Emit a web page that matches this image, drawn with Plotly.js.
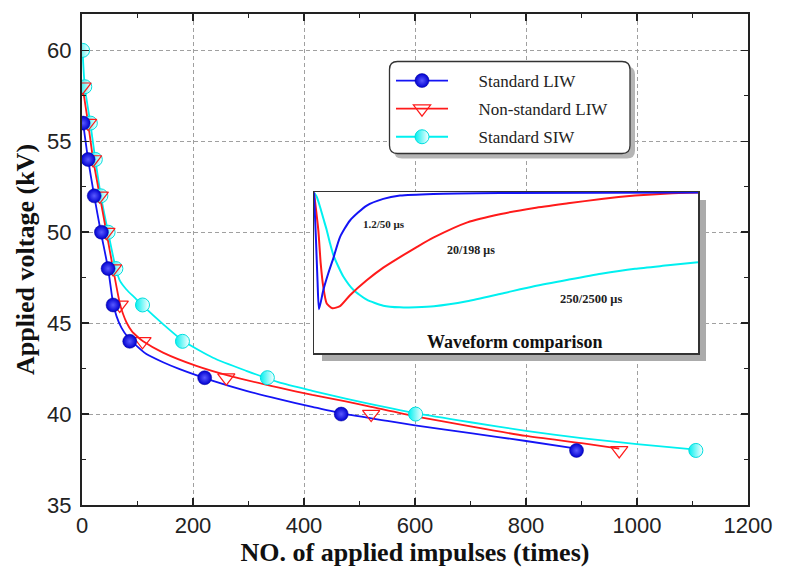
<!DOCTYPE html>
<html>
<head>
<meta charset="utf-8">
<script src="https://cdn.plot.ly/plotly-3.0.1.min.js"></script>
<style>html,body{margin:0;padding:0;background:#fff;}#chart{width:785px;height:568px;}</style>
</head>
<body>
<div id="chart"></div>
<script>
// ---- measured points ----
const blueN = [2, 11, 22, 35, 47, 56, 86, 221, 467, 891];
const blueV = [56, 54, 52, 50, 48, 46, 44, 42, 40, 38];
const redN = [1, 11, 20, 32, 44, 56, 68, 109, 260, 521, 968];
const redV = [58, 56, 54, 52, 50, 48, 46, 44, 42, 40, 38];
const cyanN = [1, 5, 15, 24, 34, 47, 61, 109, 181, 334, 601, 1106];
const cyanV = [60, 58, 56, 54, 52, 50, 48, 46, 44, 42, 40, 38];

// ---- fitted curves ----
const blueFitN = [2, 11, 22, 34, 47, 56, 62, 71, 82, 95, 116, 146, 176, 236, 296, 355, 415, 471, 550, 600, 700, 800, 891];
const blueFitV = [56, 54, 52, 50, 48, 46.1, 45.4, 44.75, 44.25, 43.85, 43.3, 42.85, 42.47, 41.83, 41.28, 40.82, 40.4, 40.02, 39.62, 39.38, 38.95, 38.52, 38.1];
const redFitN = [1, 11, 20, 32, 44, 56, 68, 74, 80, 90, 100, 110, 146, 206, 266, 355, 415, 475, 521, 600, 700, 800, 900, 968];
const redFitV = [58, 56, 54, 52, 50, 48, 46.1, 45.5, 45.05, 44.55, 44.25, 44.0, 43.38, 42.65, 42.1, 41.45, 41.05, 40.7, 40.4, 39.88, 39.32, 38.8, 38.4, 38.1];
const cyanFitN = [1, 5, 15, 24, 34, 47, 61, 68, 80, 95, 110, 146, 182, 236, 296, 355, 415, 475, 601, 700, 800, 900, 1000, 1106];
const cyanFitV = [60, 58, 56, 54, 52, 50, 48, 47.35, 46.85, 46.4, 45.95, 44.95, 44.03, 43.1, 42.38, 41.74, 41.28, 40.85, 40.05, 39.55, 39.08, 38.68, 38.35, 38.05];

// ---- inset waveforms (relative units) ----
const wBlueT = [0, 2, 3.5, 5, 9.3, 14.3, 19.3, 26, 36, 52.7, 69.3, 86, 119.3, 186, 384];
const wBlueV = [0, -48, -88, -117, -98, -81, -66, -44.7, -28, -13, -6.3, -3, -1.3, -0.4, 0];
const wRedT = [0, 4.3, 6.7, 9.3, 12.7, 18.3, 26, 36, 52.7, 69.3, 86, 102.7, 119.3, 153.4, 187, 220.4, 254, 287.4, 321, 354.4, 384];
const wRedV = [0, -37.5, -71, -94.7, -111.3, -116, -114, -103, -88, -75.3, -64.7, -54.7, -45.3, -29.9, -21.5, -15.5, -10.8, -6.4, -3, -0.8, 0];
const wCyanT = [0, 2.7, 6, 9.3, 12.7, 16, 19.3, 24.3, 29.3, 39.3, 52.7, 69.3, 86, 102, 120, 153, 187, 220, 254, 287, 321, 354, 384];
const wCyanV = [0, -4.2, -14.2, -25.8, -37.5, -50.8, -62.5, -74.2, -84.2, -97.5, -107.5, -113.5, -115.2, -115, -114, -109, -101.5, -94, -87.5, -81.5, -76.5, -73, -69.8];

const seriesNames = ['Standard LIW', 'Non-standard LIW', 'Standard SIW'];
const waveLabels = ['1.2/50 \u03bcs', '20/198 \u03bcs', '250/2500 \u03bcs'];

const BLUE = '#1414f5', RED = '#ff1a1a', CYAN = '#00f0f0';
const blueMarker = {symbol: 'circle', size: 14, color: '#0000d0', line: {width: 0.5, color: '#00009a'}, gradient: {type: 'radial', color: '#5a5aff'}};
const redMarker = {symbol: 'triangle-down-open', size: 15, color: RED, line: {width: 1.2, color: RED}};
const cyanMarker = {symbol: 'circle', size: 14, color: CYAN, line: {width: 1, color: '#00dede'}, gradient: {type: 'horizontal', color: '#ffffff'}};

const PAD = '\u00a0\u00a0\u00a0\u00a0\u00a0\u00a0';
const spl = {shape: 'spline', smoothing: 0.6};
const traces = [
  {x: cyanFitN, y: cyanFitV, mode: 'lines', line: Object.assign({color: CYAN, width: 1.8}, spl), showlegend: false, hoverinfo: 'skip'},
  {x: redFitN, y: redFitV, mode: 'lines', line: Object.assign({color: RED, width: 1.8}, spl), showlegend: false, hoverinfo: 'skip'},
  {x: blueFitN, y: blueFitV, mode: 'lines', line: Object.assign({color: BLUE, width: 1.8}, spl), showlegend: false, hoverinfo: 'skip'},
  {x: cyanN, y: cyanV, mode: 'markers', marker: cyanMarker, showlegend: false},
  {x: redN, y: redV, mode: 'markers', marker: redMarker, showlegend: false},
  {x: blueN, y: blueV, mode: 'markers', marker: blueMarker, showlegend: false},
  // legend entries
  {x: [null], y: [null], mode: 'lines+markers', name: PAD + seriesNames[0], line: {color: BLUE, width: 1.8}, marker: blueMarker, legendgroup: 'a', legendrank: 1},
  {x: [null], y: [null], mode: 'lines+markers', name: PAD + seriesNames[1], line: {color: RED, width: 1.8}, marker: redMarker, legendgroup: 'b', legendrank: 2},
  {x: [null], y: [null], mode: 'lines+markers', name: PAD + seriesNames[2], line: {color: CYAN, width: 1.8}, marker: cyanMarker, legendgroup: 'c', legendrank: 3},
  // inset
  {x: wCyanT, y: wCyanV, xaxis: 'x2', yaxis: 'y2', mode: 'lines', line: Object.assign({color: CYAN, width: 2}, spl), showlegend: false, hoverinfo: 'skip'},
  {x: wRedT, y: wRedV, xaxis: 'x2', yaxis: 'y2', mode: 'lines', line: Object.assign({color: RED, width: 2}, spl), showlegend: false, hoverinfo: 'skip'},
  {x: wBlueT, y: wBlueV, xaxis: 'x2', yaxis: 'y2', mode: 'lines', line: Object.assign({color: BLUE, width: 2}, spl), showlegend: false, hoverinfo: 'skip'}
];

// pixel helpers for decorative boxes
const PL = 82, PR = 748, PT = 14, PB = 505;
const XMAX = 1200, YMIN = 35, YMAX = 62;
const px = v => (v - PL) / (PR - PL);
const py = v => (PB - v) / (PB - PT);
const dx = v => px(v) * XMAX;
const dy = v => YMIN + py(v) * (YMAX - YMIN);
function roundRect(x0, y0, x1, y1, r) {
  const rx = r / (PR - PL), ry = r / (PB - PT);
  const a = px(x0), b = px(x1), t = py(y0), u = py(y1);
  return `M${a + rx},${t} L${b - rx},${t} Q${b},${t} ${b},${t - ry} L${b},${u + ry} Q${b},${u} ${b - rx},${u} L${a + rx},${u} Q${a},${u} ${a},${u + ry} L${a},${t - ry} Q${a},${t} ${a + rx},${t} Z`;
}
const inset = {l: 314, r: 698, t: 192, b: 353};

const serif = 'Liberation Serif, Times New Roman, serif';
const sans = 'Liberation Sans, Arial, sans-serif';

const layout = {
  width: 785, height: 568,
  margin: {l: PL, r: 785 - PR, t: PT, b: 568 - PB},
  paper_bgcolor: '#fff', plot_bgcolor: '#fff',
  showlegend: true,
  legend: {x: px(391), y: py(63), xanchor: 'left', yanchor: 'top', bgcolor: 'rgba(0,0,0,0)', borderwidth: 0,
           font: {family: serif, size: 17, color: '#222'}, itemwidth: 52, tracegroupgap: 3, traceorder: 'grouped'},
  xaxis: {
    range: [0, XMAX], dtick: 200, tick0: 0, ticks: 'inside', ticklen: 7, tickwidth: 1.5, tickcolor: '#222',
    minor: {dtick: 100, ticks: 'inside', ticklen: 4, tickwidth: 1.2, tickcolor: '#222', showgrid: false},
    showline: true, linecolor: '#222', linewidth: 2, mirror: 'allticks',
    showgrid: true, gridcolor: '#a0a0a0', griddash: '4px,3px', gridwidth: 1, zeroline: false,
    tickfont: {family: sans, size: 22, color: '#222'},
    title: {text: 'NO. of applied impulses (times)', font: {family: serif, size: 26, color: '#111', weight: 'bold'}, standoff: 1}
  },
  yaxis: {
    range: [YMIN, YMAX], dtick: 5, tick0: 35, ticks: 'inside', ticklen: 7, tickwidth: 1.5, tickcolor: '#222',
    minor: {dtick: 2.5, ticks: 'inside', ticklen: 4, tickwidth: 1.2, tickcolor: '#222', showgrid: false},
    showline: true, linecolor: '#222', linewidth: 2, mirror: 'allticks',
    showgrid: true, gridcolor: '#a0a0a0', griddash: '4px,3px', gridwidth: 1, zeroline: false,
    tickfont: {family: sans, size: 22, color: '#222'}, ticklabelstandoff: 4,
    title: {text: 'Applied voltage (kV)', font: {family: serif, size: 26, color: '#111', weight: 'bold'}, standoff: 5}
  },
  xaxis2: {domain: [px(inset.l), px(inset.r)], anchor: 'y2', range: [0, 384], showgrid: false, zeroline: false,
           showticklabels: false, ticks: '', showline: true, mirror: true, linecolor: '#333', linewidth: 1.5},
  yaxis2: {domain: [py(inset.b), py(inset.t)], anchor: 'x2', range: [-161, 0.6], showgrid: false, zeroline: false,
           showticklabels: false, ticks: '', showline: true, mirror: true, linecolor: '#333', linewidth: 1.5},
  shapes: [
    // inset shadow and background (main axes coordinates, above gridlines)
    {type: 'rect', xref: 'x', yref: 'y', x0: dx(inset.l + 8), x1: dx(inset.r + 8), y0: dy(inset.b + 8), y1: dy(inset.t + 8),
     fillcolor: '#ababab', line: {width: 0}, layer: 'between'},
    {type: 'rect', xref: 'x', yref: 'y', x0: dx(inset.l), x1: dx(inset.r), y0: dy(inset.b), y1: dy(inset.t),
     fillcolor: '#ffffff', line: {width: 0}, layer: 'between'},
    // legend box shadow and frame
    {type: 'path', xref: 'paper', yref: 'paper', path: roundRect(394, 66.5, 635, 158.5, 8), fillcolor: '#b5b5b5', line: {width: 0}, layer: 'above'},
    {type: 'path', xref: 'paper', yref: 'paper', path: roundRect(389.5, 61.5, 630, 153.5, 8), fillcolor: '#ffffff', line: {width: 1.3, color: '#333'}, layer: 'above'}
  ],
  annotations: [
    {xref: 'x2', yref: 'y2', x: 69.7, y: -31.5, text: waveLabels[0], showarrow: false, font: {family: serif, size: 11, color: '#222', weight: 'bold'}},
    {xref: 'x2', yref: 'y2', x: 157, y: -58, text: waveLabels[1], showarrow: false, font: {family: serif, size: 12, color: '#222', weight: 'bold'}},
    {xref: 'x2', yref: 'y2', x: 277, y: -107, text: waveLabels[2], showarrow: false, font: {family: serif, size: 12.5, color: '#222', weight: 'bold'}},
    {xref: 'x2', yref: 'y2', x: 200, y: -149.5, text: 'Waveform comparison', showarrow: false, font: {family: serif, size: 18, color: '#111', weight: 'bold'}}
  ]
};

Plotly.newPlot('chart', traces, layout, {staticPlot: true, displayModeBar: false});
</script>
</body>
</html>
